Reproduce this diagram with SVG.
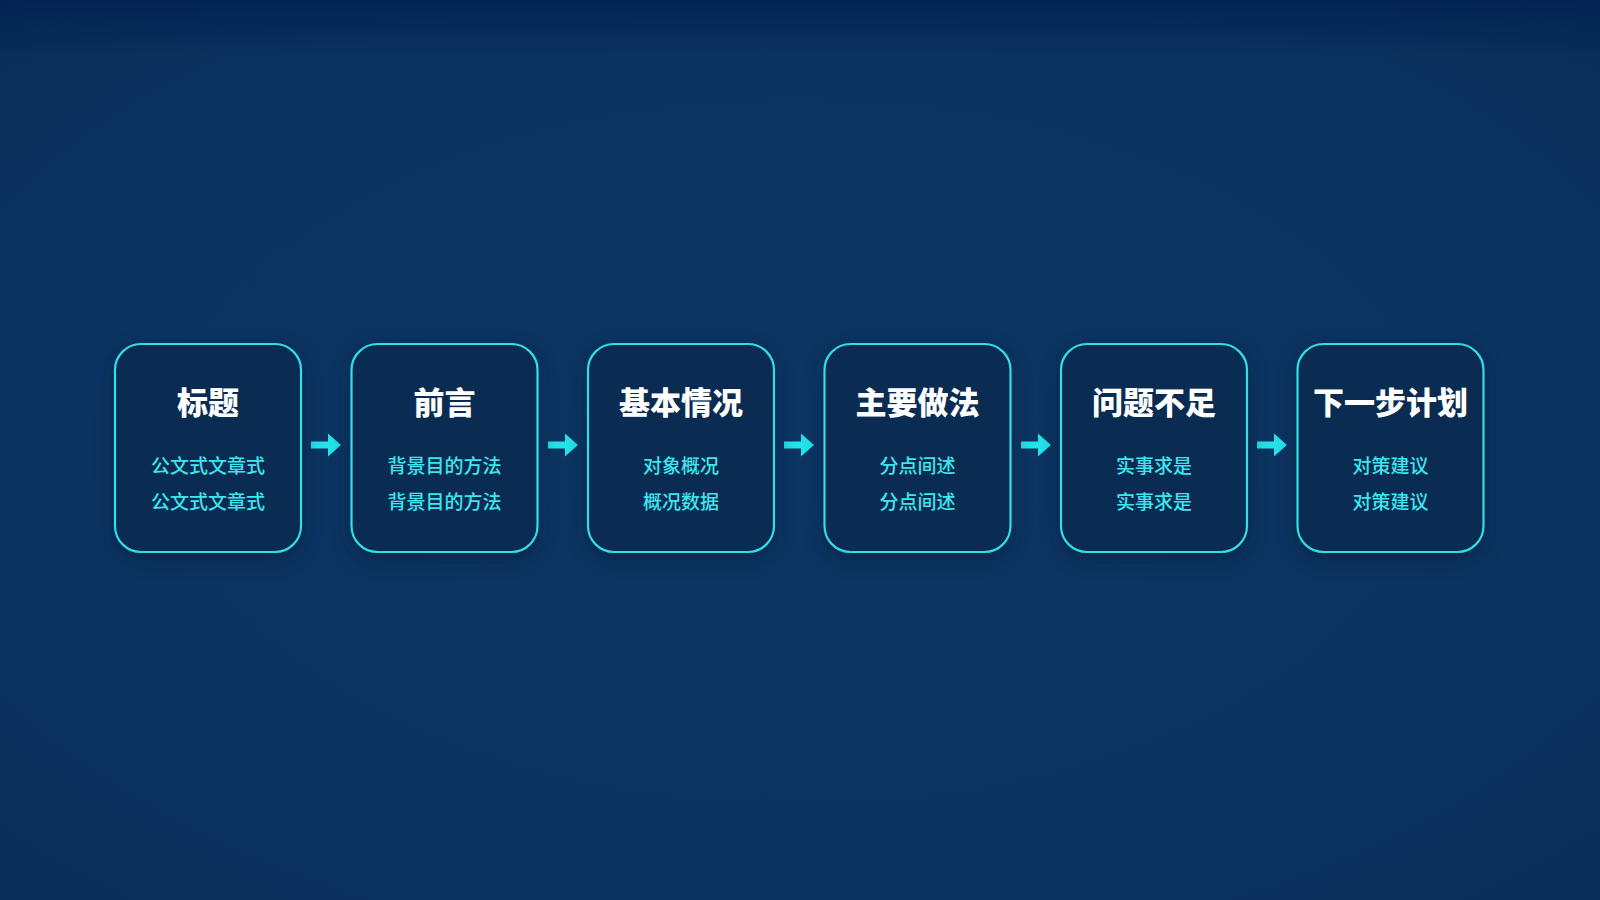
<svg xmlns="http://www.w3.org/2000/svg" width="1600" height="900" viewBox="0 0 1600 900">
<defs>
<radialGradient id="bg" cx="50%" cy="50%" r="75%">
<stop offset="0" stop-color="#0c3562"/>
<stop offset="0.7" stop-color="#0b3360"/>
<stop offset="1" stop-color="#082b55"/>
</radialGradient>
<linearGradient id="topshade" x1="0" y1="0" x2="0" y2="1">
<stop offset="0" stop-color="#022352" stop-opacity="0.9"/>
<stop offset="1" stop-color="#022352" stop-opacity="0"/>
</linearGradient>
<filter id="glow" x="-30%" y="-30%" width="160%" height="160%">
<feGaussianBlur stdDeviation="10"/>
</filter>
<g id="arrow">
<path d="M-15,-3.5 L2,-3.5 L2,-11.5 L15,0 L2,11.5 L2,3.5 L-15,3.5 Z"/>
</g>
</defs>
<style>
.box{fill:#0a2b52;stroke:#33dde6;stroke-width:2.2}
.shadow{fill:#041a38;opacity:0.55}
.title{font-family:"Noto Sans CJK SC","Noto Sans CJK JP",sans-serif;font-weight:900;font-size:31px;fill:#ffffff;text-anchor:middle}
.sub{font-family:"Noto Sans CJK SC","Noto Sans CJK JP",sans-serif;font-weight:500;font-size:19px;fill:#3de6ee;text-anchor:middle}
.arr{fill:#22e2ea}
</style>
<rect width="1600" height="900" fill="url(#bg)"/>
<rect width="1600" height="60" fill="url(#topshade)"/>

<g id="connectors" class="arr">
<use href="#arrow" x="326" y="445"/>
<use href="#arrow" x="563" y="445"/>
<use href="#arrow" x="799" y="445"/>
<use href="#arrow" x="1036" y="445"/>
<use href="#arrow" x="1272" y="445"/>
</g>

<g id="node1">
<rect class="shadow" x="115" y="350" width="186" height="208" rx="26" filter="url(#glow)"/>
<rect class="box" x="115" y="344" width="186" height="208" rx="26"/>
<text class="title" x="208" y="414">标题</text>
<text class="sub" x="208" y="473">公文式文章式</text>
<text class="sub" x="208" y="509">公文式文章式</text>
</g>
<g id="node2">
<rect class="shadow" x="351.5" y="350" width="186" height="208" rx="26" filter="url(#glow)"/>
<rect class="box" x="351.5" y="344" width="186" height="208" rx="26"/>
<text class="title" x="444.5" y="414">前言</text>
<text class="sub" x="444.5" y="473">背景目的方法</text>
<text class="sub" x="444.5" y="509">背景目的方法</text>
</g>
<g id="node3">
<rect class="shadow" x="588" y="350" width="186" height="208" rx="26" filter="url(#glow)"/>
<rect class="box" x="588" y="344" width="186" height="208" rx="26"/>
<text class="title" x="681" y="414">基本情况</text>
<text class="sub" x="681" y="473">对象概况</text>
<text class="sub" x="681" y="509">概况数据</text>
</g>
<g id="node4">
<rect class="shadow" x="824.5" y="350" width="186" height="208" rx="26" filter="url(#glow)"/>
<rect class="box" x="824.5" y="344" width="186" height="208" rx="26"/>
<text class="title" x="917.5" y="414">主要做法</text>
<text class="sub" x="917.5" y="473">分点间述</text>
<text class="sub" x="917.5" y="509">分点间述</text>
</g>
<g id="node5">
<rect class="shadow" x="1061" y="350" width="186" height="208" rx="26" filter="url(#glow)"/>
<rect class="box" x="1061" y="344" width="186" height="208" rx="26"/>
<text class="title" x="1154" y="414">问题不足</text>
<text class="sub" x="1154" y="473">实事求是</text>
<text class="sub" x="1154" y="509">实事求是</text>
</g>
<g id="node6">
<rect class="shadow" x="1297.5" y="350" width="186" height="208" rx="26" filter="url(#glow)"/>
<rect class="box" x="1297.5" y="344" width="186" height="208" rx="26"/>
<text class="title" x="1390.5" y="414">下一步计划</text>
<text class="sub" x="1390.5" y="473">对策建议</text>
<text class="sub" x="1390.5" y="509">对策建议</text>
</g>
</svg>
